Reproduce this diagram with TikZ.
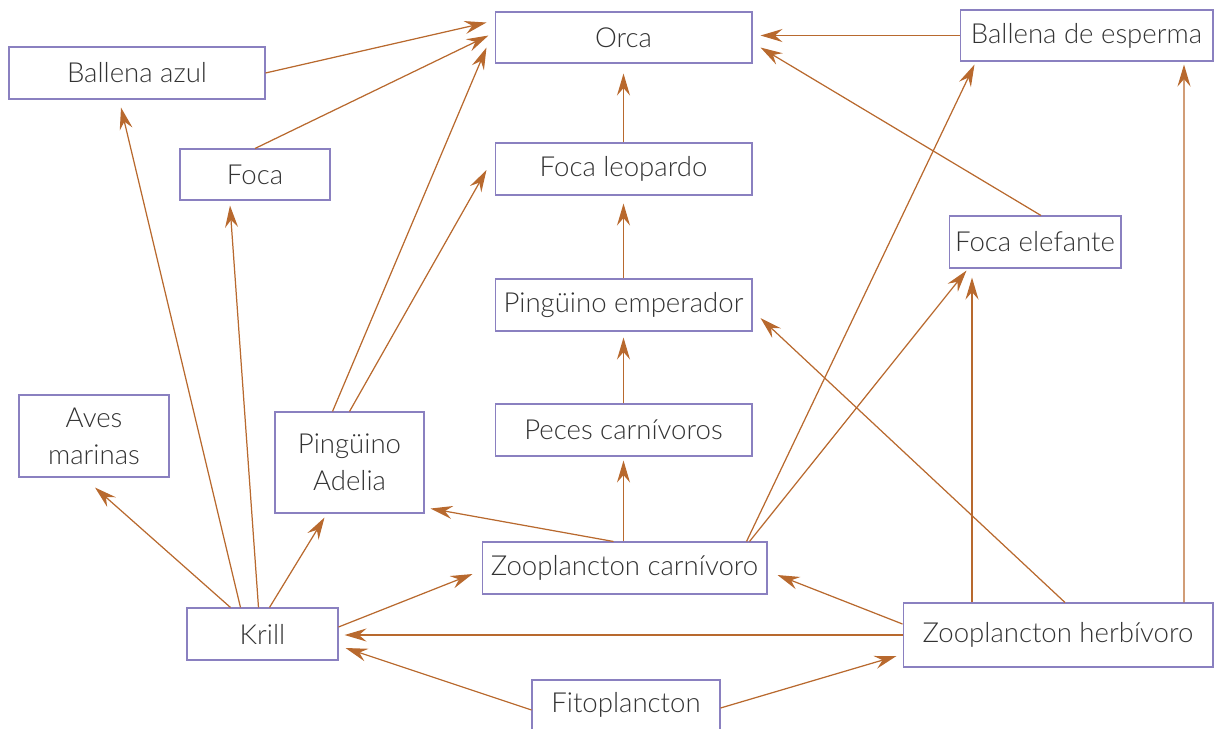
\documentclass[tikz,border=0pt]{standalone}
\usepackage{fontspec}
\setmainfont{Lato}[UprightFont={* Light}]
\usepackage{tikz}
\usetikzlibrary{arrows.meta,calc}
\definecolor{boxline}{HTML}{8A80C0}
\definecolor{arrline}{HTML}{B8692E}
\definecolor{txt}{HTML}{333333}

\begin{document}
\begin{tikzpicture}[x=0.02cm,y=-0.02cm,
  box/.style={draw=boxline,line width=0.6pt,fill=white,text=txt,align=center,
    inner sep=0pt,font=\fontsize{15.7}{21}\selectfont},
  feed/.style={draw=arrline,line width=0.7pt,-{Stealth[length=4.4mm,width=2.6mm,inset=1.5mm]}}]
\useasboundingbox (0,0) rectangle (1214,728);
\node[box,minimum width=5.14cm,minimum height=1.02cm] (orca) at (623.5,37.5) {Orca};
\node[box,minimum width=5.06cm,minimum height=1.02cm] (esperma) at (1086.5,35.5) {Ballena de esperma};
\node[box,minimum width=5.12cm,minimum height=1.04cm] (azul) at (137,73) {Ballena azul};
\node[box,minimum width=3.0cm,minimum height=1.02cm] (foca) at (255,174.5) {Foca};
\node[box,minimum width=5.14cm,minimum height=1.04cm] (leopardo) at (623.5,169) {Foca leopardo};
\node[box,minimum width=3.44cm,minimum height=1.04cm] (elefante) at (1035,242) {Foca elefante};
\node[box,minimum width=5.14cm,minimum height=1.04cm] (emperador) at (623.5,305) {Pingüino emperador};
\node[box,minimum width=3.0cm,minimum height=1.64cm] (aves) at (94,436) {Aves\\marinas};
\node[box,minimum width=2.98cm,minimum height=2.02cm] (adelia) at (349.5,462.5) {Pingüino\\Adelia};
\node[box,minimum width=5.14cm,minimum height=1.04cm] (peces) at (623.5,430) {Peces carnívoros};
\node[box,minimum width=5.7cm,minimum height=1.04cm] (zc) at (624.5,568) {Zooplancton carnívoro};
\node[box,minimum width=3.02cm,minimum height=1.04cm] (krill) at (262.5,634) {Krill};
\node[box,minimum width=6.2cm,minimum height=1.28cm] (zh) at (1058,635) {Zooplancton herbívoro};
\node[box,minimum width=3.76cm,minimum height=1.0cm] (fito) at (626,705) {Fitoplancton};

% to the orca
\draw[feed] (azul.east) -- ($(orca.west)+(-8,-15)$);
\draw[feed] (foca.north) -- ($(orca.west)+(-6,-2)$);
\draw[feed] ($(adelia.north)+(-17,0)$) -- ($(orca.west)+(-8,10)$);
\draw[feed] (leopardo.north) -- ($(orca.south)+(0,10)$);
\draw[feed] (esperma.west) -- ($(orca.east)+(8,-2)$);
\draw[feed] ($(elefante.north)+(6,0)$) -- ($(orca.east)+(8,10)$);
% middle column
\draw[feed] (adelia.north) -- ($(leopardo.west)+(-8,1)$);
\draw[feed] (emperador.north) -- ($(leopardo.south)+(0,8)$);
\draw[feed] (peces.north) -- ($(emperador.south)+(0,6)$);
\draw[feed] ($(zc.north)+(-1,0)$) -- ($(peces.south)+(0,4)$);
\draw[feed] ($(zc.north)+(-11,0)$) -- ($(adelia.south east)+(6,-5)$);
\draw[feed] ($(zc.north)+(122,0)$) -- ($(esperma.south west)+(15,3)$);
\draw[feed] ($(zc.north)+(125,0)$) -- ($(elefante.south west)+(18,2)$);
% zooplancton herbivoro
\draw[feed] ($(zh.north)+(7,0)$) -- ($(emperador.east)+(8,13)$);
\draw[feed] ($(zh.north)+(-86,0)$) -- ($(elefante.south)+(-63,9)$);
\draw[feed] ($(zh.north)+(126,0)$) -- ($(esperma.south)+(97.5,3)$);
\draw[feed] ($(zh.west)+(0,-11)$) -- ($(zc.east)+(10,7)$);
\draw[feed] (zh.west) -- ($(krill.east)+(6,1)$);
% krill
\draw[feed] ($(krill.north)+(-22,0)$) -- ($(azul.south)+(-16,8)$);
\draw[feed] ($(krill.north)+(-4,0)$) -- ($(foca.south)+(-25,5)$);
\draw[feed] ($(krill.north)+(-32,0)$) -- ($(aves.south)+(1,10)$);
\draw[feed] ($(krill.north)+(7,0)$) -- ($(adelia.south)+(-25,4)$);
\draw[feed] ($(krill.east)+(0,-7)$) -- ($(zc.west)+(-9,6)$);
% fitoplancton
\draw[feed] ($(fito.west)+(0,5)$) -- ($(krill.east)+(7,14)$);
\draw[feed] ($(fito.east)+(0,3)$) -- ($(zh.west)+(-6,21)$);
\end{tikzpicture}
\end{document}
